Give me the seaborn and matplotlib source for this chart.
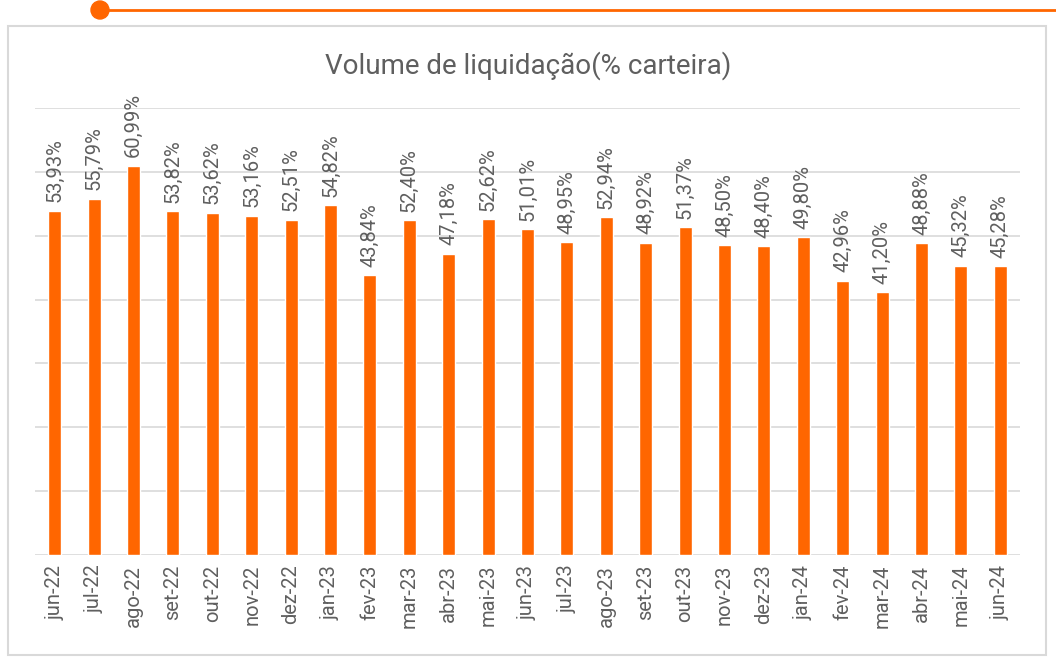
import matplotlib
matplotlib.use('Agg')
import matplotlib.pyplot as plt
import matplotlib.patches as mpatches
import matplotlib.lines as mlines
import seaborn as sns
import pandas as pd

meses = ['jun-22', 'jul-22', 'ago-22', 'set-22', 'out-22', 'nov-22', 'dez-22',
         'jan-23', 'fev-23', 'mar-23', 'abr-23', 'mai-23', 'jun-23', 'jul-23',
         'ago-23', 'set-23', 'out-23', 'nov-23', 'dez-23', 'jan-24', 'fev-24',
         'mar-24', 'abr-24', 'mai-24', 'jun-24']
volume = [53.93, 55.79, 60.99, 53.82, 53.62, 53.16, 52.51, 54.82, 43.84, 52.40,
          47.18, 52.62, 51.01, 48.95, 52.94, 48.92, 51.37, 48.50, 48.40, 49.80,
          42.96, 41.20, 48.88, 45.32, 45.28]

laranja = '#FF6600'
cinza_txt = '#5f5f5f'
cinza_linha = '#d9d9d9'

sns.set_style('white')
plt.rcParams['font.family'] = ['Roboto', 'DejaVu Sans']

df = pd.DataFrame({'mes': meses, 'volume': volume})

fig = plt.figure(figsize=(10.56, 6.58), dpi=100)
ax = fig.add_axes([0.0331, 0.1565, 0.9328, 0.6794])

sns.barplot(data=df, x='mes', y='volume', color=laranja, width=0.33,
            saturation=1, ax=ax, zorder=3)

ax.set_ylim(0, 70)
ax.set_xlim(-0.5, len(meses) - 0.5)
ax.set_yticks(range(0, 71, 10))
ax.yaxis.grid(True, color=cinza_linha, linewidth=1.2, zorder=0)
ax.set_yticklabels([])
ax.tick_params(axis='both', length=0)
ax.tick_params(axis='x', labelrotation=90, labelsize=14.5, labelcolor=cinza_txt, pad=7)
for s in ax.spines.values():
    s.set_visible(False)
ax.set_xlabel('')
ax.set_ylabel('')

for i, v in enumerate(volume):
    ax.annotate(f'{v:.2f}%'.replace('.', ','), (i, v), xytext=(0, 6),
                textcoords='offset points', rotation=90, ha='center', va='bottom',
                fontsize=14.5, color=cinza_txt, zorder=4)

fig.text(0.5, 0.901, 'Volume de liquidação(% carteira)', ha='center', va='center',
         fontsize=20, color=cinza_txt)

# moldura e detalhe laranja
fig.add_artist(mpatches.Rectangle((8 / 1056, 3 / 658), 1038 / 1056, 629 / 658,
                                  transform=fig.transFigure, fill=False,
                                  edgecolor=cinza_linha, linewidth=1.5))
fig.add_artist(mlines.Line2D([100 / 1056, 1], [648 / 658, 648 / 658],
                             transform=fig.transFigure, color=laranja, linewidth=2))
fig.add_artist(mpatches.Ellipse((100 / 1056, 648 / 658), 18 / 1056, 18 / 658,
                                transform=fig.transFigure, color=laranja))

fig.savefig('out.png', dpi=100)
